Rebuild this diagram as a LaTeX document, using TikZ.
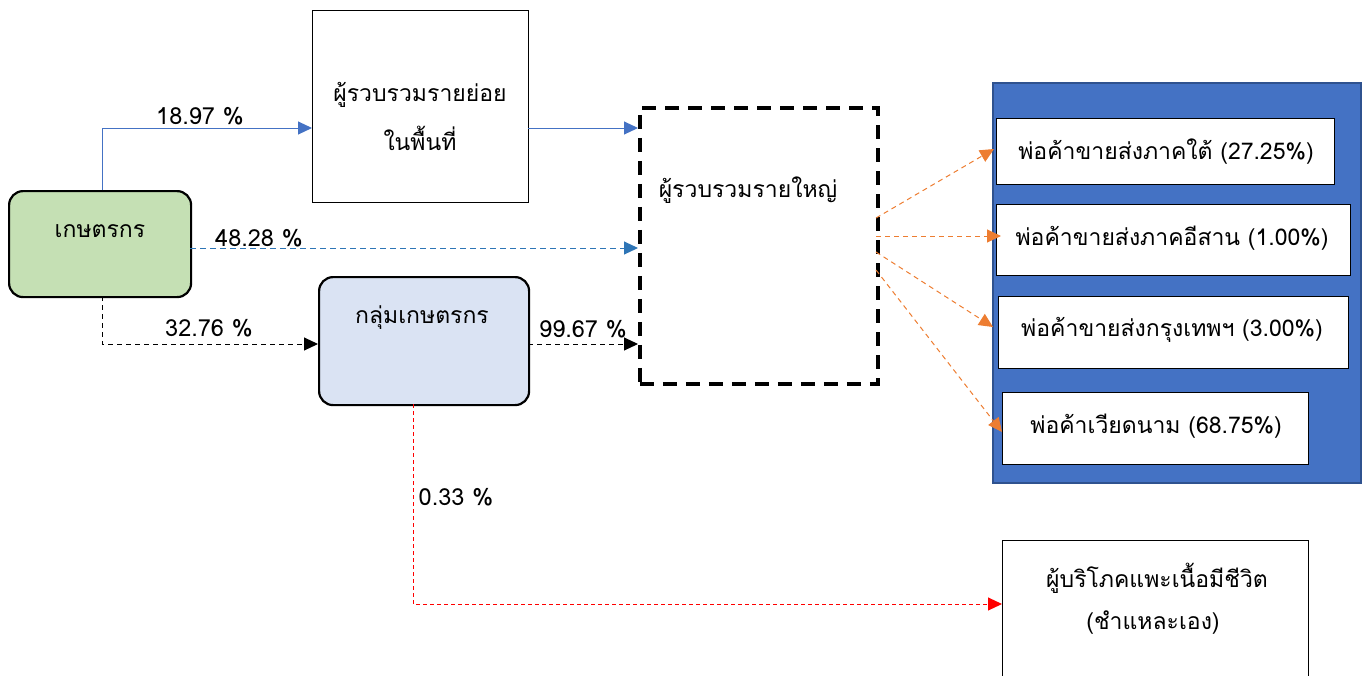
\documentclass[tikz,border=0pt]{standalone}
\usepackage{fontspec}
\setmainfont[Script=Thai]{Loma}
\usetikzlibrary{arrows.meta}
\definecolor{bluearr}{HTML}{4472C4}
\definecolor{bluedash}{HTML}{2E75B6}
\definecolor{orangearr}{HTML}{ED7D31}
\definecolor{greenfill}{HTML}{C5E0B4}
\definecolor{bluefill}{HTML}{DAE3F3}
\definecolor{panelblue}{HTML}{4472C4}
\definecolor{paneledge}{HTML}{2F528F}
\tikzset{
  boxbase/.style={draw=black, inner sep=0pt, anchor=north west},
  roundbox/.style={boxbase, rounded corners=14pt, line width=2.2pt},
  plainbox/.style={boxbase, line width=1pt, fill=white},
  bigdash/.style={boxbase, line width=3.5pt, dash pattern=on 14pt off 9pt},
  txt/.style={font=\fontsize{23}{27}\selectfont, inner sep=0pt, align=center},
  lbl/.style={font=\fontsize{23.5}{27}\selectfont, inner sep=0pt},
  tip/.style={-{Triangle[length=14pt,width=13pt]}},
  smalltip/.style={-{Triangle[length=14pt,width=13pt]}},
}
\begin{document}
\begin{tikzpicture}[x=1pt,y=-1pt]
\useasboundingbox (0,0) rectangle (1368,675);
% boxes
\node[roundbox, fill=greenfill, minimum width=182pt, minimum height=106pt] (farmer) at (8,190) {};
\node[plainbox, minimum width=216pt, minimum height=192pt] (small) at (312,10) {};
\node[bigdash, minimum width=238pt, minimum height=276pt] (big) at (638,106) {};
\node[roundbox, fill=bluefill, minimum width=210pt, minimum height=128pt] (group) at (318,276) {};
\node[boxbase, draw=paneledge, line width=1.5pt, fill=panelblue, minimum width=368pt, minimum height=400pt] (panel) at (992,82) {};
\node[plainbox, minimum width=338pt, minimum height=66pt] (s1) at (996,118) {};
\node[plainbox, minimum width=354pt, minimum height=71pt] (s2) at (996,204) {};
\node[plainbox, minimum width=350pt, minimum height=72pt] (s3) at (998,296) {};
\node[plainbox, minimum width=306pt, minimum height=72pt] (s4) at (1002,392) {};
\node[plainbox, minimum width=306pt, minimum height=140pt] (cons) at (1002,540) {};
% texts
\node[txt] (tfarmer) at (100,231) {เกษตรกร};
\node[txt] (tsmall1) at (420,95) {ผู้รวบรวมรายย่อย};
\node[txt] (tsmall2) at (420,138) {ในพื้นที่};
\node[txt] (tbig) at (748,190) {ผู้รวบรวมรายใหญ่};
\node[txt] (tgroup) at (422,318) {กลุ่มเกษตรกร};
\node[txt] (ts1) at (1166,152) {พ่อค้าขายส่งภาคใต้ (27.25\%)};
\node[txt] (ts2) at (1172,238) {พ่อค้าขายส่งภาคอีสาน (1.00\%)};
\node[txt] (ts3) at (1172,330) {พ่อค้าขายส่งกรุงเทพฯ (3.00\%)};
\node[txt] (ts4) at (1156,426) {พ่อค้าเวียดนาม (68.75\%)};
\node[txt] (tc1) at (1157,578) {ผู้บริโภคแพะเนื้อมีชีวิต};
\node[txt] (tc2) at (1153,623) {(ชำแหละเอง)};
% coordinates
\coordinate (fTop) at (102,190);
\coordinate (fBot) at (102,296);
\coordinate (sIn) at (312,128);
\coordinate (sOut) at (528,128);
\coordinate (bIn1) at (638,128);
\coordinate (fRight) at (190,248);
\coordinate (bIn2) at (638,248);
\coordinate (gIn) at (318,344);
\coordinate (gOut) at (528,344);
\coordinate (bIn3) at (638,344);
\coordinate (gBot) at (413,404);
\coordinate (cIn) at (1002,604);
\coordinate (o1) at (876,218);
\coordinate (o2) at (876,236);
\coordinate (o3) at (876,252);
\coordinate (o4) at (876,270);
\coordinate (e1) at (994,149);
\coordinate (e2) at (1001,236);
\coordinate (e3) at (993,327);
\coordinate (e4) at (1002,432);
% connectors
\draw[bluearr, line width=1pt, tip] (fTop) |- (sIn);
\draw[bluearr, line width=1pt, tip] (sOut) -- (bIn1);
\draw[bluedash, line width=1pt, dash pattern=on 6pt off 4pt, tip] (fRight) -- (bIn2);
\draw[black, line width=1pt, dash pattern=on 5pt off 4pt, tip] (fBot) |- (gIn);
\draw[black, line width=1pt, dash pattern=on 5pt off 4pt, tip] (gOut) -- (bIn3);
\draw[red, line width=1pt, dash pattern=on 4pt off 3pt, tip] (gBot) |- (cIn);
\foreach \a/\b in {o1/e1,o2/e2,o3/e3,o4/e4}
  \draw[orangearr, line width=1pt, dash pattern=on 5pt off 4pt, smalltip] (\a) -- (\b);
% labels
\node[lbl] (l1) at (200,116) {18.97 \%};
\node[lbl] (l2) at (259,238) {48.28 \%};
\node[lbl] (l3) at (209,328) {32.76 \%};
\node[lbl] (l4) at (583,329) {99.67 \%};
\node[lbl] (l5) at (456,497) {0.33 \%};
\end{tikzpicture}
\end{document}
